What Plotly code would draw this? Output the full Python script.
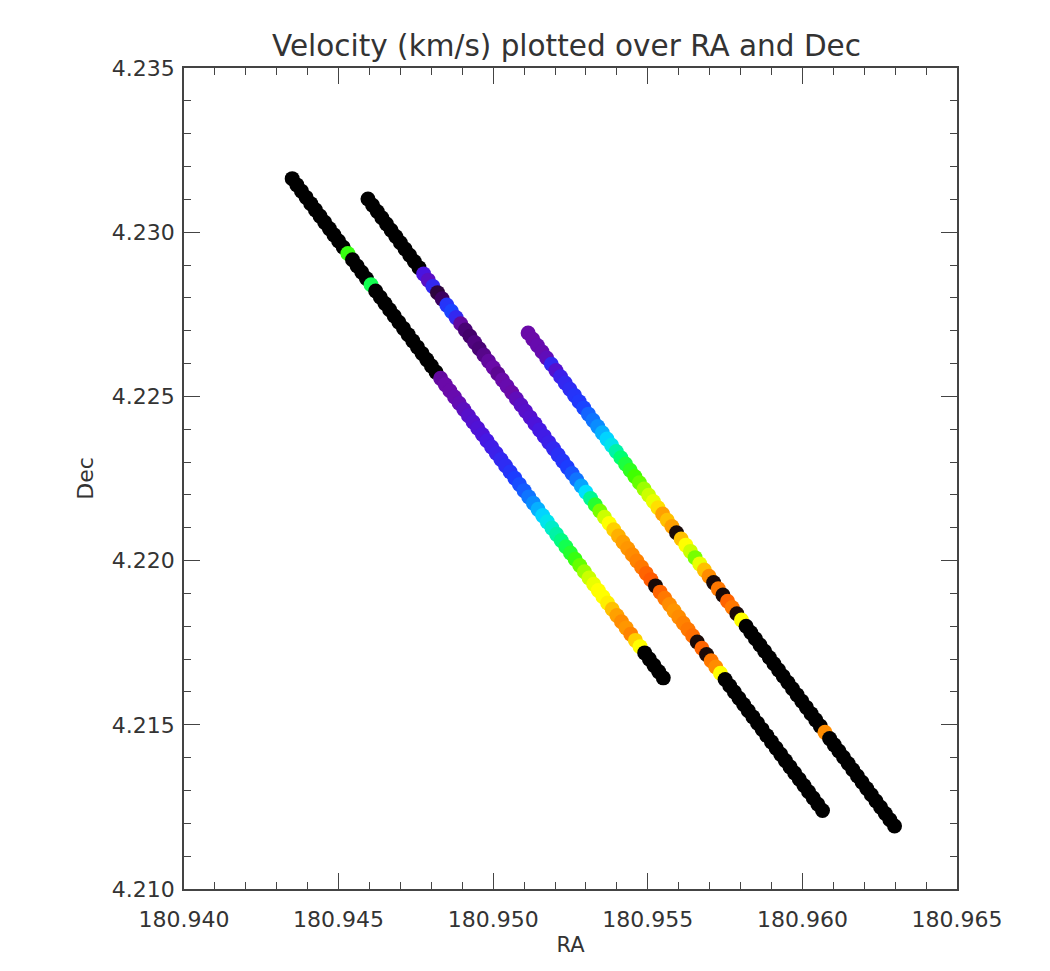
import plotly.graph_objects as go

# ---- Streak 1 (left) ----
ra_1 = [180.94350, 180.94365, 180.94380, 180.94395, 180.94410, 180.94425, 180.94440, 180.94455, 180.94470, 180.94485,
        180.94500, 180.94515, 180.94530, 180.94545, 180.94560, 180.94575, 180.94590, 180.94605, 180.94620, 180.94635,
        180.94650, 180.94665, 180.94680, 180.94695, 180.94710, 180.94725, 180.94740, 180.94755, 180.94770, 180.94785,
        180.94800, 180.94815, 180.94830, 180.94845, 180.94860, 180.94875, 180.94890, 180.94905, 180.94920, 180.94935,
        180.94950, 180.94965, 180.94980, 180.94995, 180.95010, 180.95025, 180.95040, 180.95055, 180.95070, 180.95085,
        180.95100, 180.95115, 180.95130, 180.95145, 180.95160, 180.95175, 180.95190, 180.95205, 180.95220, 180.95235,
        180.95250, 180.95265, 180.95280, 180.95295, 180.95310, 180.95325, 180.95340, 180.95355, 180.95370, 180.95385,
        180.95400, 180.95415, 180.95430, 180.95445, 180.95460, 180.95475, 180.95490, 180.95505, 180.95520, 180.95535,
        180.95550]
dec_1 = [4.23163, 4.23144, 4.23125, 4.23106, 4.23087, 4.23068, 4.23049, 4.23030, 4.23011, 4.22992,
         4.22973, 4.22954, 4.22935, 4.22916, 4.22897, 4.22878, 4.22859, 4.22840, 4.22821, 4.22802,
         4.22783, 4.22764, 4.22745, 4.22726, 4.22707, 4.22688, 4.22669, 4.22650, 4.22631, 4.22612,
         4.22593, 4.22574, 4.22555, 4.22536, 4.22517, 4.22498, 4.22479, 4.22460, 4.22441, 4.22422,
         4.22403, 4.22384, 4.22365, 4.22346, 4.22327, 4.22308, 4.22289, 4.22270, 4.22251, 4.22232,
         4.22213, 4.22194, 4.22175, 4.22156, 4.22137, 4.22118, 4.22099, 4.22080, 4.22061, 4.22042,
         4.22023, 4.22004, 4.21985, 4.21966, 4.21947, 4.21928, 4.21909, 4.21890, 4.21871, 4.21852,
         4.21833, 4.21814, 4.21795, 4.21776, 4.21757, 4.21738, 4.21719, 4.21700, 4.21681, 4.21662,
         4.21643]
vel_1 = [0, 0, 0, 0, 0, 0, 0, 0, 0, 0,
         0, 0, 66, 0, 0, 0, 0, 62, 0, 0,
         0, 0, 0, 0, 0, 0, 0, 0, 0, 0,
         0, 0, 14, 15, 15, 16, 17, 19, 21, 22,
         23, 24, 26, 27, 28, 30, 31, 33, 35, 37,
         39, 42, 45, 48, 51, 53, 55, 57, 59, 62,
         64, 66, 69, 72, 75, 78, 80, 80, 81, 84,
         86, 88, 87, 89, 83, 80, 0, 0, 0, 0,
         0]

# ---- Streak 2 (middle) ----
ra_2 = [180.94595, 180.94610, 180.94625, 180.94640, 180.94655, 180.94670, 180.94685, 180.94700, 180.94715, 180.94730,
        180.94745, 180.94760, 180.94775, 180.94790, 180.94805, 180.94820, 180.94835, 180.94850, 180.94865, 180.94880,
        180.94895, 180.94910, 180.94925, 180.94940, 180.94955, 180.94970, 180.94985, 180.95000, 180.95015, 180.95030,
        180.95045, 180.95060, 180.95075, 180.95090, 180.95105, 180.95120, 180.95135, 180.95150, 180.95165, 180.95180,
        180.95195, 180.95210, 180.95225, 180.95240, 180.95255, 180.95270, 180.95285, 180.95300, 180.95315, 180.95330,
        180.95345, 180.95360, 180.95375, 180.95390, 180.95405, 180.95420, 180.95435, 180.95450, 180.95465, 180.95480,
        180.95495, 180.95510, 180.95525, 180.95540, 180.95555, 180.95570, 180.95585, 180.95600, 180.95615, 180.95630,
        180.95645, 180.95660, 180.95675, 180.95690, 180.95705, 180.95720, 180.95735, 180.95750, 180.95765, 180.95780,
        180.95795, 180.95810, 180.95825, 180.95840, 180.95855, 180.95870, 180.95885, 180.95900, 180.95915, 180.95930,
        180.95945, 180.95960, 180.95975, 180.95990, 180.96005, 180.96020, 180.96035, 180.96050, 180.96065]
dec_2 = [4.23101, 4.23082, 4.23063, 4.23044, 4.23025, 4.23006, 4.22987, 4.22968, 4.22949, 4.22930,
         4.22911, 4.22892, 4.22873, 4.22854, 4.22835, 4.22816, 4.22797, 4.22778, 4.22759, 4.22740,
         4.22721, 4.22702, 4.22683, 4.22664, 4.22645, 4.22626, 4.22607, 4.22588, 4.22569, 4.22550,
         4.22531, 4.22512, 4.22493, 4.22474, 4.22455, 4.22436, 4.22417, 4.22398, 4.22379, 4.22360,
         4.22341, 4.22322, 4.22303, 4.22284, 4.22265, 4.22246, 4.22227, 4.22208, 4.22189, 4.22170,
         4.22151, 4.22132, 4.22113, 4.22094, 4.22075, 4.22056, 4.22037, 4.22018, 4.21999, 4.21980,
         4.21961, 4.21942, 4.21923, 4.21904, 4.21885, 4.21866, 4.21847, 4.21828, 4.21809, 4.21790,
         4.21771, 4.21752, 4.21733, 4.21714, 4.21695, 4.21676, 4.21657, 4.21638, 4.21619, 4.21600,
         4.21581, 4.21562, 4.21543, 4.21524, 4.21505, 4.21486, 4.21467, 4.21448, 4.21429, 4.21410,
         4.21391, 4.21372, 4.21353, 4.21334, 4.21315, 4.21296, 4.21277, 4.21258, 4.21239]
vel_2 = [0, 0, 0, 0, 0, 0, 0, 0, 0, 0,
         0, 0, 25, 20, 30, 6, 8, 33, 36, 30,
         14, 10, 9, 11, 10, 12, 14, 15, 13, 15,
         16, 15, 18, 20, 21, 22, 24, 26, 27, 28,
         30, 32, 33, 35, 38, 42, 47, 52, 58, 64,
         70, 75, 80, 83, 85, 86, 87, 88, 89, 90,
         92, 93, 3, 92, 90, 88, 87, 88, 89, 90,
         91, 3, 92, 3, 90, 88, 80, 0, 0, 0,
         0, 0, 0, 0, 0, 0, 0, 0, 0, 0,
         0, 0, 0, 0, 0, 0, 0, 0, 0]

# ---- Streak 3 (right) ----
ra_3 = [180.95113, 180.95128, 180.95143, 180.95158, 180.95173, 180.95188, 180.95203, 180.95218, 180.95233, 180.95248,
        180.95263, 180.95278, 180.95293, 180.95308, 180.95323, 180.95338, 180.95353, 180.95368, 180.95383, 180.95398,
        180.95413, 180.95428, 180.95443, 180.95458, 180.95473, 180.95488, 180.95503, 180.95518, 180.95533, 180.95548,
        180.95563, 180.95578, 180.95593, 180.95608, 180.95623, 180.95638, 180.95653, 180.95668, 180.95683, 180.95698,
        180.95713, 180.95728, 180.95743, 180.95758, 180.95773, 180.95788, 180.95803, 180.95818, 180.95833, 180.95848,
        180.95863, 180.95878, 180.95893, 180.95908, 180.95923, 180.95938, 180.95953, 180.95968, 180.95983, 180.95998,
        180.96013, 180.96028, 180.96043, 180.96058, 180.96073, 180.96088, 180.96103, 180.96118, 180.96133, 180.96148,
        180.96163, 180.96178, 180.96193, 180.96208, 180.96223, 180.96238, 180.96253, 180.96268, 180.96283, 180.96298]
dec_3 = [4.22693, 4.22674, 4.22655, 4.22636, 4.22617, 4.22598, 4.22579, 4.22560, 4.22541, 4.22522,
         4.22503, 4.22484, 4.22465, 4.22446, 4.22427, 4.22408, 4.22389, 4.22370, 4.22351, 4.22332,
         4.22313, 4.22294, 4.22275, 4.22256, 4.22237, 4.22218, 4.22199, 4.22180, 4.22161, 4.22142,
         4.22123, 4.22104, 4.22085, 4.22066, 4.22047, 4.22028, 4.22009, 4.21990, 4.21971, 4.21952,
         4.21933, 4.21914, 4.21895, 4.21876, 4.21857, 4.21838, 4.21819, 4.21800, 4.21781, 4.21762,
         4.21743, 4.21724, 4.21705, 4.21686, 4.21667, 4.21648, 4.21629, 4.21610, 4.21591, 4.21572,
         4.21553, 4.21534, 4.21515, 4.21496, 4.21477, 4.21458, 4.21439, 4.21420, 4.21401, 4.21382,
         4.21363, 4.21344, 4.21325, 4.21306, 4.21287, 4.21268, 4.21249, 4.21230, 4.21211, 4.21192]
vel_3 = [15, 15, 16, 16, 18, 30, 22, 28, 30, 31,
         33, 34, 36, 40, 42, 45, 48, 51, 53, 57,
         60, 63, 65, 67, 69, 72, 75, 78, 82, 86,
         84, 86, 3, 84, 80, 75, 70, 78, 84, 88,
         3, 90, 3, 92, 90, 3, 80, 0, 0, 0,
         0, 0, 0, 0, 0, 0, 0, 0, 0, 0,
         0, 0, 0, 0, 88, 0, 0, 0, 0, 0,
         0, 0, 0, 0, 0, 0, 0, 0, 0, 0]

x_ticks = [180.940, 180.945, 180.950, 180.955, 180.960, 180.965]
y_ticks = [4.210, 4.215, 4.220, 4.225, 4.230, 4.235]

rainbow = [
    [0.00, "#000000"], [0.03, "#1a0a08"], [0.08, "#3c0060"], [0.15, "#6a0aa8"], [0.25, "#4a14e0"],
    [0.35, "#1c3cff"], [0.45, "#0a8cff"], [0.52, "#00e0ff"], [0.60, "#00ff70"],
    [0.67, "#40ff00"], [0.74, "#c0ff00"], [0.80, "#ffff00"], [0.86, "#ffa000"],
    [0.93, "#ff5a00"], [1.00, "#ff2000"],
]

ra_all = ra_1 + ra_2 + ra_3
dec_all = dec_1 + dec_2 + dec_3
vel_all = vel_1 + vel_2 + vel_3

fig = go.Figure()
fig.add_trace(go.Scatter(
    x=ra_all, y=dec_all, mode="markers",
    marker=dict(size=15, color=vel_all, colorscale=rainbow, cmin=0, cmax=100,
                line=dict(width=0), opacity=1),
    showlegend=False, hoverinfo="skip",
))

font_fam = "DejaVu Sans"
txt_col = "#333333"
axis_common = dict(
    showgrid=False, zeroline=False, showline=True, linecolor="#444444", linewidth=1.5,
    mirror="allticks", ticks="inside", ticklen=16, tickwidth=1.2, tickcolor="#444444",
    minor=dict(ticks="inside", ticklen=7, tickwidth=1.2, tickcolor="#444444", dtick=0.001, showgrid=False),
    tickformat=".3f", tickfont=dict(family=font_fam, size=22, color=txt_col),
)

fig.update_xaxes(range=[180.940, 180.965], tickvals=x_ticks, ticklabelstandoff=10,
                 title=dict(text="RA", font=dict(family=font_fam, size=21, color=txt_col), standoff=6),
                 **axis_common)
fig.update_yaxes(range=[4.210, 4.235], tickvals=y_ticks, ticklabelstandoff=3,
                 title=dict(text="Dec", font=dict(family=font_fam, size=22, color=txt_col), standoff=12),
                 **axis_common)

fig.update_layout(
    width=1042, height=963,
    margin=dict(l=176, r=93, t=60, b=82),
    paper_bgcolor="white", plot_bgcolor="white",
    title=dict(text="Velocity (km/s) plotted over RA and Dec", xref="container", x=0.536, xanchor="center",
               yref="container", y=0.9605, yanchor="middle",
               font=dict(family=font_fam, size=29.5, color=txt_col)),
)

fig.write_html("out.html")
